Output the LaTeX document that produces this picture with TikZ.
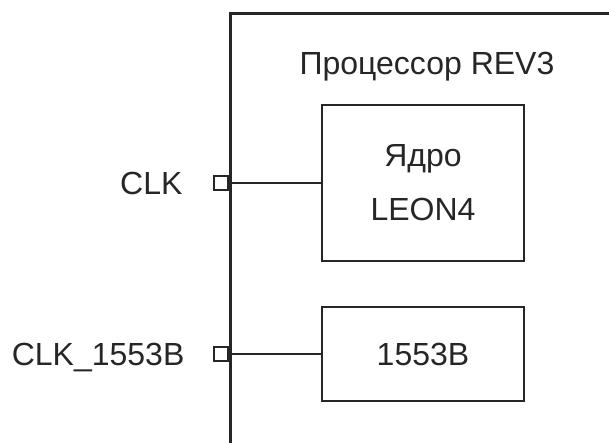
\documentclass[tikz,border=0pt]{standalone}
\usepackage{fontspec}
\setmainfont{Liberation Sans}
\usetikzlibrary{positioning}

\tikzset{
  frame/.style={draw, line width=2.6pt, inner sep=0pt},
  block/.style={frame, minimum width=202pt, align=center},
  pinbox/.style={draw, line width=2.4pt, minimum size=14pt, inner sep=0pt},
  wire/.style={line width=2.6pt},
  siglabel/.style={text depth=0pt, inner sep=0pt},
}

\begin{document}
\begin{tikzpicture}[x=1pt, y=1pt, color=black!85, font=\fontsize{32}{54}\selectfont]
    \useasboundingbox (0,0) rectangle (609,443);
    \clip (0,0) rectangle (609,443);

    %processor (cut off at right and bottom)
    \node[frame, anchor=north west, minimum width=600pt, minimum height=600pt] (proc) at (229,431) {};
    \node[anchor=base] (title) at (427,368) {Процессор REV3};

    %blocks
    \node[block, minimum height=156pt] (core) at (423,260) {Ядро\\LEON4};
    \node[block, minimum height=94pt] (mil) at (423,89) {1553B};

    %pins
    \node[pinbox, anchor=east] (pclk) at (proc.west |- core.west) {};
    \node[pinbox, anchor=east] (pmil) at (proc.west |- mil.west) {};
    \draw[wire] (pclk.east) -- (core.west);
    \draw[wire] (pmil.east) -- (mil.west);

    %labels
    \node[siglabel, left=30pt of pclk] (lclk) {CLK};
    \node[siglabel, left=28pt of pmil] (lmil) {CLK\_1553B};
\end{tikzpicture}
\end{document}
